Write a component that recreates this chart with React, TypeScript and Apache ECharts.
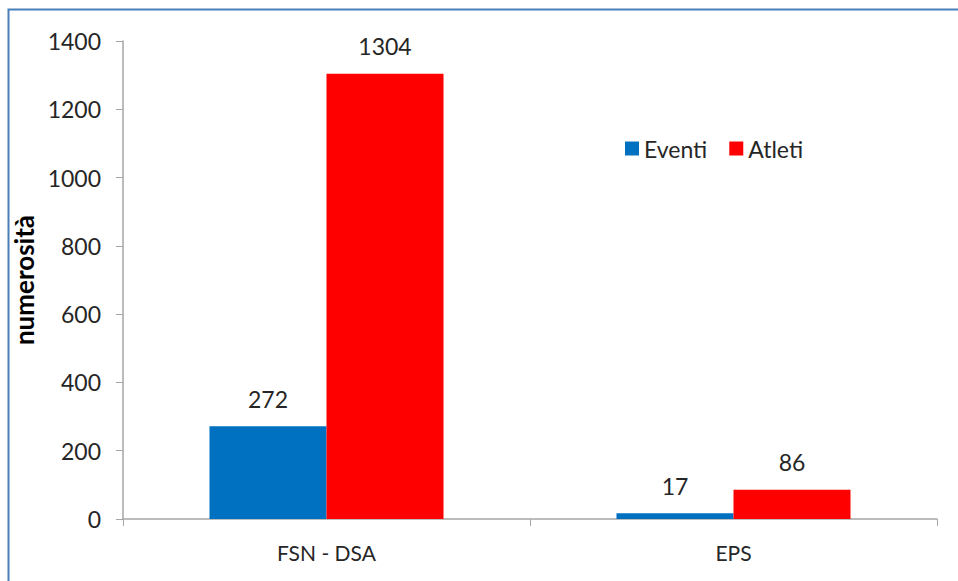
import React, { useEffect, useRef } from "react";
import * as echarts from "echarts";

const categories = ["FSN - DSA", "EPS"];
const eventi = [272, 17];
const atleti = [1304, 86];
const seriesNames = ["Eventi", "Atleti"];
const yTicks = { min: 0, max: 1400, interval: 200 };

const FONT = "Lato, 'Open Sans', sans-serif";
const TXT = "#262626";

export default function App() {
  const ref = useRef<HTMLDivElement>(null);
  useEffect(() => {
    const chart = echarts.init(ref.current!, undefined, { renderer: "svg" });
    const labelStyle = {
      show: true,
      position: "top" as const,
      distance: 16,
      fontSize: 23,
      color: TXT,
      fontFamily: FONT,
    };
    chart.setOption({
      animation: false,
      backgroundColor: "#ffffff",
      graphic: [
        {
          type: "rect",
          shape: { x: 8.5, y: 9.5, width: 1000, height: 700 },
          style: { fill: "none", stroke: "#4A7EBB", lineWidth: 2 },
          silent: true,
        },
      ],
      grid: { left: 123, right: 21, top: 41, bottom: 62, containLabel: false },
      legend: {
        data: seriesNames,
        left: 620,
        top: 132,
        itemWidth: 14,
        itemHeight: 14,
        itemGap: 22,
        icon: "rect",
        textStyle: { fontSize: 23, color: TXT, fontFamily: FONT },
      },
      xAxis: {
        type: "category",
        data: categories,
        axisLine: { lineStyle: { color: "#A6A6A6", width: 1.5 } },
        axisTick: { show: true, length: 7, lineStyle: { color: "#A6A6A6" } },
        axisLabel: { fontSize: 21, color: TXT, fontFamily: FONT, margin: 23 },
      },
      yAxis: {
        type: "value",
        min: yTicks.min,
        max: yTicks.max,
        interval: yTicks.interval,
        name: "numerosità",
        nameLocation: "middle",
        nameGap: 85,
        nameTextStyle: { fontSize: 26, fontWeight: "bold", color: "#000", fontFamily: FONT },
        axisLine: { show: true, lineStyle: { color: "#A6A6A6", width: 1.5 } },
        axisTick: { show: true, length: 7, inside: false, lineStyle: { color: "#A6A6A6" } },
        splitLine: { show: false },
        axisLabel: {
          fontSize: 23,
          color: TXT,
          fontFamily: FONT,
          margin: 22,
          formatter: (v: number) => String(v),
        },
      },
      series: [
        {
          name: seriesNames[0],
          type: "bar",
          data: eventi,
          itemStyle: { color: "#0070C0" },
          barGap: "0%",
          barCategoryGap: "42.5%",
          label: labelStyle,
        },
        {
          name: seriesNames[1],
          type: "bar",
          data: atleti,
          itemStyle: { color: "#FF0000" },
          barGap: "0%",
          barCategoryGap: "42.5%",
          label: labelStyle,
        },
      ],
    });
    return () => chart.dispose();
  }, []);
  return (
    <div
      ref={ref}
      style={{ position: "fixed", left: 0, top: 0, width: 958, height: 581 }}
    />
  );
}
